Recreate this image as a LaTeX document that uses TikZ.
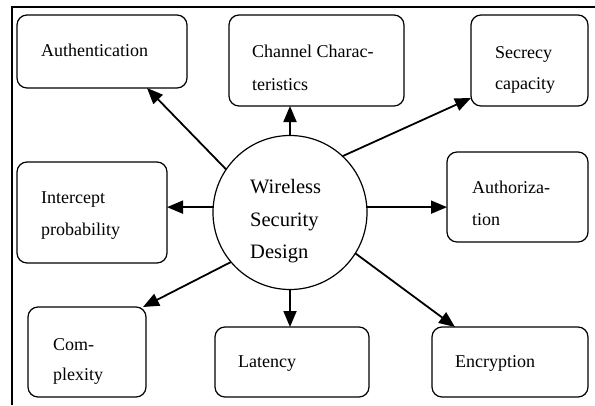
\documentclass[tikz,border=0pt]{standalone}
\usepackage{fontspec}
\setmainfont{Liberation Serif}
\usetikzlibrary{arrows.meta,calc}
\tikzset{
  box/.style={draw, line width=1.2pt, rounded corners=10pt, inner sep=0pt, outer sep=0pt},
  lbl/.style={inner sep=0pt, anchor=base west, font=\fontsize{18}{20}\selectfont},
  clbl/.style={inner sep=0pt, anchor=base west, font=\fontsize{20.5}{22}\selectfont},
  hub/.style={draw, circle, line width=1.2pt, minimum size=154pt, inner sep=0pt, outer sep=0pt},
  arr/.style={line width=1.8pt, -{Triangle[length=16pt,width=13pt]}},
  frameline/.style={line width=2pt}
}
\begin{document}
\begin{tikzpicture}[x=1pt,y=-1pt]
\useasboundingbox (0,0) rectangle (595,405);
% frame (only top and left edges are visible)
\coordinate (ftl) at (12,7);
\coordinate (ftr) at (595,7);
\coordinate (fbl) at (12,405);
\draw[frameline] (ftr) -- (ftl) -- (fbl);

% boxes
\node[box, minimum width=170pt, minimum height=73pt] (auth) at (102,51.5) {};
\node[box, minimum width=175pt, minimum height=91pt] (chan) at (316.5,60.5) {};
\node[box, minimum width=117pt, minimum height=91pt] (sec) at (529.5,60.5) {};
\node[box, minimum width=150pt, minimum height=101pt] (inter) at (92,212.5) {};
\node[box, minimum width=141pt, minimum height=90pt] (authz) at (517.5,197) {};
\node[box, minimum width=118pt, minimum height=90pt] (comp) at (87,352) {};
\node[box, minimum width=154pt, minimum height=70pt] (lat) at (292,362) {};
\node[box, minimum width=156pt, minimum height=70pt] (enc) at (510,362) {};

% hub
\node[hub] (c) at (290,212.5) {};
\node[clbl] (cw) at (250,193) {Wireless};
\node[clbl] (cs) at (250,226) {Security};
\node[clbl] (cd) at (250,258) {Design};

% labels
\node[lbl] (tauth) at (41,56) {Authentication};
\node[lbl] (tchan1) at (252,57) {Channel Charac-};
\node[lbl] (tchan2) at (252,90) {teristics};
\node[lbl] (tsec1) at (495,58) {Secrecy};
\node[lbl] (tsec2) at (495,89) {capacity};
\node[lbl] (tint1) at (41,203) {Intercept};
\node[lbl] (tint2) at (41,235) {probability};
\node[lbl] (tauz1) at (472,193) {Authoriza-};
\node[lbl] (tauz2) at (472,225) {tion};
\node[lbl] (tcom1) at (53,350) {Com-};
\node[lbl] (tcom2) at (53,380) {plexity};
\node[lbl] (tlat) at (238,367) {Latency};
\node[lbl] (tenc) at (455,367) {Encryption};

% arrows
\draw[arr] (c.146) -- ($(auth.south west)+(130,0)$);
\draw[arr] (c.north) -- ($(chan.south west)+(61,0)$);
\draw[arr] (c.47) -- ($(sec.south west)+(0,-8)$);
\draw[arr] (c.176) -- (c.176 -| inter.east);
\draw[arr] (c.4) -- (c.4 -| authz.west);
\draw[arr] (c.220) -- ($(comp.north east)+(-3,0)$);
\draw[arr] (c.south) -- (c.south |- lat.north);
\draw[arr] (c.-32) -- ($(enc.north west)+(23,0)$);
\end{tikzpicture}
\end{document}
